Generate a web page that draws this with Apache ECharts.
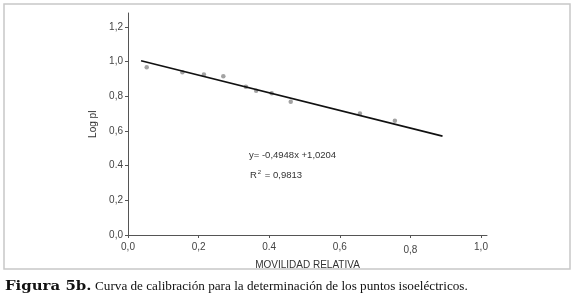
<!DOCTYPE html>
<html>
<head>
<meta charset="utf-8">
<style>
html,body{margin:0;padding:0;background:#fff;}
#c{width:575px;height:297px;}
</style>
<script src="https://cdn.jsdelivr.net/npm/echarts@6/dist/echarts.min.js"></script>
</head>
<body>
<div id="c"></div>
<script>
// Data
var movilidad = [0.053, 0.154, 0.215, 0.270, 0.334, 0.363, 0.407, 0.461, 0.657, 0.756];
var logPI     = [0.967, 0.938, 0.926, 0.916, 0.855, 0.832, 0.817, 0.768, 0.701, 0.659];
var trendX = [0.037, 0.891];
var trendY = [1.005, 0.570];
var xTickValues = [0, 0.2, 0.4, 0.6, 0.8, 1.0];
var xTickLabels = ['0,0', '0,2', '0.4', '0,6', '0,8', '1,0'];
var yTickValues = [0, 0.2, 0.4, 0.6, 0.8, 1.0, 1.2];
var yTickLabels = ['0,0', '0,2', '0.4', '0,6', '0,8', '1,0', '1,2'];

var chart = echarts.init(document.getElementById('c'), null, {renderer: 'canvas'});
function lab(vals, labels, lowLabel) {
  return function (v) {
    for (var i = 0; i < vals.length; i++) {
      if (Math.abs(vals[i] - v) < 1e-6) {
        if (labels[i] === lowLabel) return '{low|' + labels[i] + '}';
        return labels[i];
      }
    }
    return '';
  };
}
var font = 'Liberation Sans, Arial, sans-serif';
chart.setOption({
  animation: false,
  grid: {left: 128, right: 88, top: 13, bottom: 62, containLabel: false},
  xAxis: {
    type: 'value', min: 0, max: 1.017,
    name: 'MOVILIDAD RELATIVA', nameLocation: 'middle', nameGap: 24,
    nameTextStyle: {fontFamily: font, fontSize: 10, color: '#333'},
    axisLine: {lineStyle: {color: '#555', width: 1}},
    axisTick: {show: true, length: 3, customValues: xTickValues, lineStyle: {color: '#555'}},
    axisLabel: {customValues: xTickValues, formatter: lab(xTickValues, xTickLabels, '0,8'), margin: 7,
      fontFamily: font, fontSize: 10, color: '#444',
      rich: {low: {fontFamily: font, fontSize: 10, color: '#444', padding: [3, 0, 0, 0]}}},
    splitLine: {show: false}
  },
  yAxis: {
    type: 'value', min: 0, max: 1.28,
    name: 'Log pI', nameLocation: 'middle', nameGap: 25, nameRotate: 90,
    nameTextStyle: {fontFamily: font, fontSize: 10, color: '#333'},
    axisLine: {show: true, lineStyle: {color: '#555', width: 1}},
    axisTick: {show: true, length: 3, customValues: yTickValues, lineStyle: {color: '#555'}},
    axisLabel: {customValues: yTickValues, formatter: lab(yTickValues, yTickLabels, null), margin: 5,
      fontFamily: font, fontSize: 10, color: '#444'},
    splitLine: {show: false}
  },
  series: [
    {
      type: 'scatter', symbol: 'circle', symbolSize: 4.5,
      itemStyle: {color: '#8c8c8c'},
      data: movilidad.map(function (x, i) { return [x, logPI[i]]; }),
      z: 3
    },
    {
      type: 'line', showSymbol: false, symbol: 'none',
      lineStyle: {color: '#111', width: 1.6},
      data: trendX.map(function (x, i) { return [x, trendY[i]]; }),
      z: 4
    }
  ],
  graphic: [
    {type: 'rect', shape: {x: 4, y: 4, width: 566, height: 265}, style: {fill: 'none', stroke: '#c8c8c8', lineWidth: 1.5}, silent: true},
    {type: 'text', left: 249, top: 150, style: {text: 'y= -0,4948x +1,0204', font: '9.5px Liberation Sans, Arial, sans-serif', fill: '#333'}},
    {type: 'text', left: 250, top: 169, style: {text: 'R{sup|2} = 0,9813', font: '9.5px Liberation Sans, Arial, sans-serif', fill: '#333',
      rich: {sup: {fontSize: 6, fontFamily: font, fill: '#333', verticalAlign: 'top', padding: [0, 1, 6, 1]}}}},
    {type: 'text', x: 5, y: 280, scaleX: 1.15, style: {text: 'Figura 5b.',
      font: 'bold 13px DejaVu Serif, Liberation Serif, serif', fill: '#111'}},
    {type: 'text', x: 95, y: 280, style: {text: 'Curva de calibración para la determinación de los puntos isoeléctricos.',
      font: '13.2px Liberation Serif, Times New Roman, serif', fill: '#111'}}
  ]
});
</script>
</body>
</html>
